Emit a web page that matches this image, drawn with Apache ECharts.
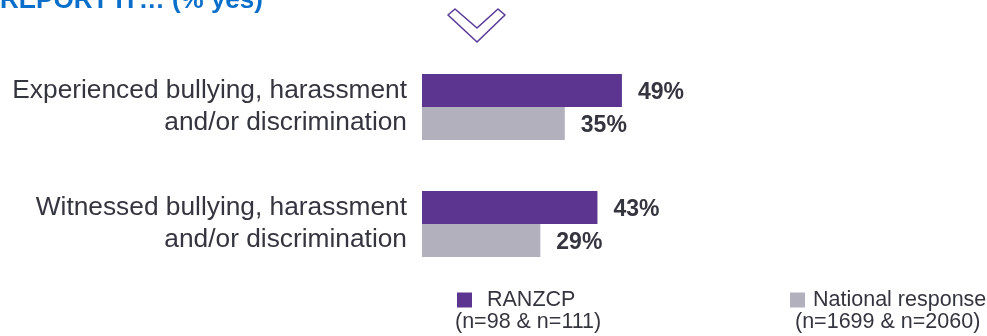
<!DOCTYPE html>
<html>
<head>
<meta charset="utf-8">
<script src="https://cdn.jsdelivr.net/npm/echarts@6/dist/echarts.min.js"></script>
<style>
  html, body { margin: 0; padding: 0; background: #ffffff; }
  #chart { width: 987px; height: 336px; }
</style>
</head>
<body>
<div id="chart"></div>
<script>
// Survey questions shown on the category axis
const categories = [
  'Experienced bullying, harassment\nand/or discrimination',
  'Witnessed bullying, harassment\nand/or discrimination'
];
// Share answering "yes" (%)
const ranzcpValues = [49, 43];
const nationalValues = [35, 29];
const seriesNames = ['RANZCP', 'National response'];
const sampleNotes = ['(n=98 & n=111)', '(n=1699 & n=2060)'];

const FONT = '"Liberation Sans", Arial, sans-serif';
const PURPLE = '#5b3590';
const GREY = '#b1b0bc';
const TEXT = '#35353f';

const chart = echarts.init(document.getElementById('chart'));

const valueLabel = {
  show: true,
  position: 'right',
  distance: 16,
  offset: [0, 2],
  formatter: '{c}%',
  color: TEXT,
  fontFamily: FONT,
  fontWeight: 'bold',
  fontSize: 23
};

function legendFor(name, left, gap) {
  return {
    data: [name],
    left: left, top: 289,
    icon: 'rect', itemWidth: 15, itemHeight: 15, itemGap: 0,
    padding: 0,
    textStyle: { color: TEXT, fontFamily: FONT, fontSize: 21.5, padding: [0, 0, 0, gap] },
    selectedMode: false
  };
}

chart.setOption({
  animation: false,
  backgroundColor: '#ffffff',
  grid: { left: 422, top: 48.5, width: 408, height: 234, containLabel: false },
  xAxis: {
    type: 'value', min: 0, max: 100,
    show: false
  },
  yAxis: {
    type: 'category',
    data: categories,
    inverse: true,
    axisLine: { show: false },
    axisTick: { show: false },
    splitLine: { show: false },
    axisLabel: {
      margin: 15,
      color: TEXT,
      fontFamily: FONT,
      fontSize: 26.3,
      lineHeight: 32,
      align: 'right'
    }
  },
  legend: [
    legendFor(seriesNames[0], 457, 10),
    legendFor(seriesNames[1], 790, 3)
  ],
  graphic: [
    {
      type: 'text', left: 0, top: -12,
      style: {
        text: 'REPORT IT\u2026 (% yes)',
        fill: '#0a6fca',
        font: 'bold 26px ' + FONT
      }
    },
    {
      // outlined chevron pointing down
      type: 'polygon',
      shape: {
        points: [[448, 15], [477, 42], [505, 15], [498, 9], [477, 28], [455, 9]]
      },
      style: {
        fill: 'none', stroke: '#5b3a9a', lineWidth: 1.6, lineJoin: 'round'
      }
    },
    {
      type: 'text', left: 455, top: 311,
      style: { text: sampleNotes[0], fill: TEXT, font: '21.5px ' + FONT }
    },
    {
      type: 'text', left: 795, top: 311,
      style: { text: sampleNotes[1], fill: TEXT, font: '21.5px ' + FONT }
    }
  ],
  series: [
    {
      name: seriesNames[0],
      type: 'bar',
      data: ranzcpValues,
      barWidth: 33,
      barGap: '0%',
      itemStyle: { color: PURPLE },
      label: valueLabel
    },
    {
      name: seriesNames[1],
      type: 'bar',
      data: nationalValues,
      barWidth: 33,
      barGap: '0%',
      itemStyle: { color: GREY },
      label: valueLabel
    }
  ]
});
</script>
</body>
</html>
